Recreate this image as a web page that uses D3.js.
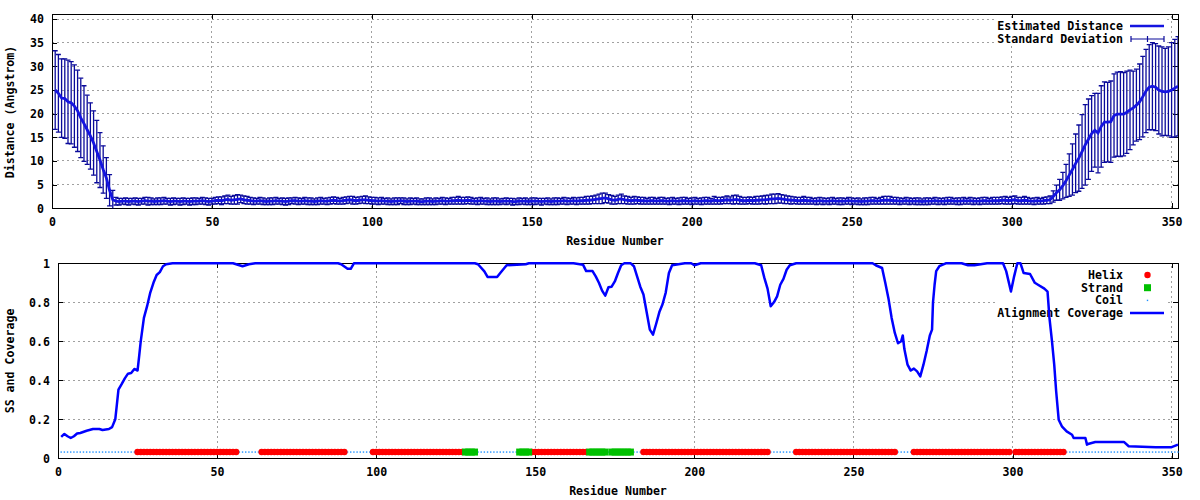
<!DOCTYPE html>
<html><head><meta charset="utf-8">
<script src="https://cdn.jsdelivr.net/npm/d3@7"></script>
<style>
body{margin:0;background:#fff}
svg text{font-family:"DejaVu Sans Mono","Liberation Mono",monospace;font-weight:bold;font-size:11.6px;fill:#000}
</style></head><body>
<svg id="chart" width="1200" height="500"></svg>
<script>
// ---------- DATA ----------
const xTicks = [0,50,100,150,200,250,300,350];
const yTicksTop = [0,5,10,15,20,25,30,35,40];
const yTicksBottom = [0,0.2,0.4,0.6,0.8,1];
const residueCount = 352;

// Estimated distance per residue (1..352)
const distance = [
25.0,24.3,23.3,23.2,22.5,22.3,21.6,20.6,19.1,17.9,16.6,15.3,13.8,12.0,10.2,8.2,6.4,3.8,1.8,1.5,
1.4,1.5,1.5,1.4,1.5,1.5,1.4,1.5,1.6,1.5,1.5,1.4,1.5,1.5,1.6,1.5,1.4,1.5,1.5,1.4,
1.5,1.5,1.4,1.5,1.5,1.5,1.6,1.5,1.4,1.5,1.6,1.7,1.6,1.8,1.9,1.7,1.8,1.9,2.0,1.8,
1.7,1.6,1.5,1.5,1.6,1.5,1.4,1.5,1.5,1.6,1.5,1.5,1.4,1.5,1.6,1.6,1.5,1.5,1.6,1.5,
1.5,1.4,1.5,1.6,1.5,1.5,1.6,1.7,1.6,1.5,1.6,1.7,1.8,1.7,1.6,1.7,1.8,1.8,1.7,1.6,
1.6,1.5,1.6,1.5,1.5,1.4,1.5,1.5,1.6,1.5,1.4,1.5,1.5,1.5,1.4,1.4,1.5,1.5,1.4,1.5,
1.5,1.6,1.5,1.5,1.6,1.6,1.7,1.6,1.6,1.7,1.6,1.5,1.5,1.6,1.5,1.5,1.4,1.5,1.5,1.4,
1.5,1.5,1.5,1.4,1.4,1.5,1.5,1.5,1.4,1.5,1.5,1.5,1.4,1.5,1.5,1.4,1.5,1.5,1.5,1.6,
1.5,1.5,1.6,1.5,1.6,1.6,1.7,1.7,1.8,1.9,2.0,2.1,2.2,2.0,1.8,1.7,1.9,2.0,1.8,1.7,
1.6,1.7,1.7,1.6,1.6,1.5,1.6,1.6,1.5,1.6,1.6,1.5,1.5,1.6,1.5,1.5,1.6,1.6,1.5,1.5,
1.6,1.5,1.5,1.6,1.6,1.5,1.7,1.6,1.6,1.7,1.8,1.7,1.8,1.9,1.7,1.6,1.6,1.7,1.6,1.7,
1.7,1.8,1.8,1.9,2.0,2.0,2.1,2.0,1.9,1.8,1.7,1.7,1.6,1.6,1.7,1.6,1.6,1.5,1.5,1.6,
1.5,1.5,1.5,1.6,1.5,1.5,1.5,1.5,1.6,1.5,1.5,1.5,1.4,1.5,1.5,1.6,1.6,1.5,1.6,1.7,
1.7,1.7,1.6,1.6,1.5,1.5,1.6,1.5,1.5,1.5,1.5,1.4,1.5,1.5,1.5,1.6,1.5,1.5,1.5,1.6,
1.6,1.5,1.5,1.5,1.6,1.5,1.6,1.5,1.5,1.5,1.6,1.6,1.5,1.6,1.6,1.6,1.7,1.7,1.6,1.7,
1.8,1.6,1.6,1.7,1.6,1.5,1.5,1.6,1.5,1.6,1.7,1.8,2.5,3.3,3.9,4.8,5.8,7.0,8.2,9.5,
10.6,12.0,13.4,14.6,15.8,16.5,15.9,17.3,18.2,18.2,18.3,19.6,19.9,19.9,19.9,20.3,20.8,21.2,21.8,22.5,
23.6,24.8,25.6,25.8,25.6,25.0,24.7,24.6,24.7,25.0,25.4,25.8];

// Standard deviation per residue (1..352)
const stdDev = [
8.3,8.2,8.3,8.4,8.8,8.7,8.7,8.6,8.4,8.0,7.3,7.0,6.8,6.6,5.8,5.0,4.3,3.3,2.0,0.8,
0.7,0.6,0.7,0.7,0.6,0.7,0.7,0.6,0.7,0.8,0.7,0.6,0.7,0.7,0.7,0.6,0.7,0.7,0.6,0.7,
0.7,0.6,0.7,0.7,0.7,0.6,0.7,0.7,0.7,0.6,0.7,0.7,0.8,0.8,0.9,0.8,0.9,1.0,0.8,0.8,
0.8,0.7,0.7,0.6,0.7,0.7,0.6,0.7,0.7,0.7,0.6,0.7,0.7,0.7,0.6,0.7,0.7,0.6,0.7,0.7,
0.7,0.6,0.7,0.7,0.6,0.7,0.7,0.7,0.7,0.6,0.7,0.7,0.7,0.8,0.7,0.7,0.7,0.8,0.7,0.7,
0.7,0.7,0.7,0.6,0.7,0.6,0.7,0.7,0.6,0.7,0.6,0.7,0.6,0.7,0.6,0.6,0.7,0.7,0.6,0.7,
0.6,0.7,0.7,0.6,0.7,0.7,0.8,0.7,0.7,0.7,0.7,0.6,0.7,0.7,0.6,0.7,0.6,0.7,0.7,0.6,
0.6,0.7,0.6,0.7,0.6,0.7,0.6,0.7,0.6,0.7,0.7,0.6,0.7,0.6,0.7,0.6,0.7,0.7,0.6,0.7,
0.7,0.6,0.7,0.7,0.7,0.7,0.8,0.8,0.8,0.9,1.0,1.1,1.0,0.9,0.9,0.8,0.9,1.0,0.8,0.8,
0.7,0.8,0.7,0.7,0.7,0.6,0.7,0.7,0.6,0.7,0.7,0.6,0.7,0.7,0.6,0.7,0.7,0.7,0.6,0.7,
0.7,0.6,0.7,0.7,0.7,0.6,0.8,0.7,0.7,0.7,0.8,0.7,0.9,0.9,0.8,0.7,0.7,0.7,0.7,0.8,
0.8,0.8,0.9,0.9,1.0,1.0,1.0,0.9,0.9,0.8,0.8,0.7,0.7,0.7,0.8,0.7,0.7,0.6,0.7,0.7,
0.7,0.6,0.7,0.7,0.6,0.7,0.7,0.6,0.7,0.7,0.6,0.7,0.6,0.7,0.7,0.7,0.7,0.6,0.7,0.8,
0.8,0.8,0.7,0.7,0.7,0.6,0.7,0.7,0.6,0.7,0.7,0.6,0.7,0.7,0.6,0.7,0.7,0.6,0.7,0.7,
0.7,0.6,0.7,0.7,0.7,0.6,0.7,0.7,0.6,0.7,0.7,0.7,0.6,0.7,0.7,0.7,0.7,0.8,0.7,0.8,
0.8,0.7,0.7,0.8,0.7,0.6,0.7,0.7,0.6,0.7,0.7,0.8,1.2,1.6,2.2,2.8,3.5,4.5,5.4,6.2,
7.0,7.8,8.5,8.5,8.0,7.8,8.4,8.6,8.5,8.4,8.6,8.8,8.9,9.0,8.8,8.7,8.4,7.8,7.6,8.0,
8.5,8.8,9.0,9.2,9.2,9.3,9.4,9.2,9.4,10.0,10.3,10.5];

// Alignment coverage, read as [residue, value] breakpoints
const coverageResidue = [1,2,3,4,5,6,7,9,11,13,14,16,17,18,18.5,19,20,21,22,23,24,25,25.5,26,26.5,27,28,29,30,31,32,33,34,36,55,56,58,60,62,88,89,91,92,93,131,132,134,135,138,139,141,147,148,162,165,166,168,169,170,171,172,173,174,175,176,177,178,180,181,182,183,184,185,186,187,188,189,190,191,192,193,197,199,200,202,219,221,222,223,224,225,226,227,228,229,230,232,256,257,259,260,261,262,263,264,265,265.5,266,267,268,269,270,271,272,273,274,274.7,275,275.5,276,277,279,284,286,288,290,292,297,298,299.5,300.5,301.5,302.5,303.5,305.5,307,308,310,311,311.6,312.4,313.1,313.7,314.5,315.5,317,318.7,319.2,322.9,323.4,324,326,335,336.5,345,350,352];
const coverageValue = [0.11,0.125,0.113,0.104,0.113,0.127,0.13,0.141,0.15,0.15,0.145,0.15,0.16,0.2,0.275,0.352,0.38,0.41,0.434,0.437,0.458,0.45,0.523,0.6,0.66,0.72,0.78,0.85,0.9,0.94,0.955,0.985,0.995,1.0,1.0,0.995,0.985,0.995,1.0,1.0,0.995,0.972,0.972,1.0,1.0,0.995,0.959,0.93,0.93,0.95,0.99,0.995,1.0,1.0,0.993,0.96,0.96,0.933,0.9,0.86,0.834,0.877,0.88,0.907,0.95,0.99,1.0,1.0,0.985,0.933,0.88,0.84,0.75,0.66,0.634,0.69,0.75,0.79,0.85,0.95,0.99,1.0,1.0,0.99,1.0,1.0,0.99,0.925,0.87,0.78,0.8,0.83,0.89,0.92,0.967,0.99,1.0,1.0,0.99,0.976,0.9,0.82,0.72,0.643,0.59,0.6,0.63,0.56,0.48,0.45,0.46,0.446,0.42,0.48,0.55,0.63,0.66,0.8,0.89,0.96,0.985,1.0,1.0,0.99,0.99,0.995,1.0,1.0,0.96,0.855,0.933,1.0,1.0,0.95,0.945,0.9,0.89,0.87,0.855,0.72,0.6,0.48,0.345,0.198,0.164,0.138,0.121,0.104,0.104,0.07,0.075,0.084,0.084,0.062,0.057,0.057,0.07];

// Secondary structure segments [first residue, last residue]; all other residues are coil
const helixSegments = [[25,56],[64,90],[99,127],[149,166],[184,223],[232,263],[269,299],[301,316]];
const strandSegments = [[128,131],[145,148],[167,172],[174,180]];
const ssLevel = 0.032;

const legendTop = ["Estimated Distance","Standard Deviation"];
const legendBottom = ["Helix","Strand","Coil","Alignment Coverage"];

// ---------- DRAW ----------
const svg = d3.select("#chart");
const C = {line:"#1414e0", err:"#0a0a9a", cov:"#0000ff", helix:"#ff0000", strand:"#00c000", coil:"#1e90ff", grid:"#a0a0a0"};

function panel(x, y, yTicks, yFmt, yTitle, titleY, xTitleY){
  const [x0,x1] = x.range(), [y0,y1] = y.range();
  const g = svg.append("g");
  g.append("g").selectAll("line").data(xTicks.filter(t=>t>0)).join("line")
    .attr("x1",d=>x(d)).attr("x2",d=>x(d)).attr("y1",y0).attr("y2",y1)
    .attr("stroke",C.grid).attr("stroke-dasharray","2,3").attr("shape-rendering","crispEdges");
  g.append("g").selectAll("line").data(yTicks.filter(t=>t>0 && t<y.domain()[1])).join("line")
    .attr("x1",x0).attr("x2",x1).attr("y1",d=>y(d)).attr("y2",d=>y(d))
    .attr("stroke",C.grid).attr("stroke-dasharray","2,3").attr("shape-rendering","crispEdges");
  const ax = (gen, tr, lab) => {
    const a = g.append("g").attr("transform",tr).call(gen);
    a.select(".domain").remove();
    a.selectAll(".tick line").attr("stroke","#000").attr("shape-rendering","crispEdges");
    a.attr("font-family",null).attr("font-size",null);
    if(!lab) a.selectAll("text").remove();
    return a;
  };
  ax(d3.axisBottom(x).tickValues(xTicks).tickSize(-5).tickPadding(9).tickFormat(d3.format("d")), `translate(0,${y0})`, true);
  ax(d3.axisTop(x).tickValues(xTicks).tickSize(-5), `translate(0,${y1})`, false);
  ax(d3.axisLeft(y).tickValues(yTicks).tickSize(-5).tickPadding(8).tickFormat(yFmt), `translate(${x0},0)`, true);
  ax(d3.axisRight(y).tickValues(yTicks).tickSize(-5), `translate(${x1},0)`, false);
  g.append("rect").attr("x",x0).attr("y",y1).attr("width",x1-x0).attr("height",y0-y1)
    .attr("fill","none").attr("stroke","#000").attr("stroke-width",1).attr("shape-rendering","crispEdges");
  g.append("text").attr("transform",`translate(14,${titleY}) rotate(-90)`).attr("text-anchor","middle").text(yTitle);
  g.append("text").attr("x",(x0+x1)/2).attr("y",xTitleY).attr("text-anchor","middle").attr("dominant-baseline","central").text("Residue Number");
  return g;
}

// ---- top panel ----
const xT = d3.scaleLinear([0,residueCount],[52,1178]);
const yT = d3.scaleLinear([0,41],[208.3,14.3]);
panel(xT, yT, yTicksTop, d3.format("d"), "Distance (Angstrom)", 112, 241);
svg.append("clipPath").attr("id","clipT").append("rect").attr("x",52).attr("y",14.3).attr("width",1126).attr("height",194);
svg.append("rect").attr("x",995).attr("y",18).attr("width",172).attr("height",25).attr("fill","#fff");

const topData = distance.map((d,i)=>({r:i+1, d, s:stdDev[i]}));
const gT = svg.append("g").attr("clip-path","url(#clipT)");
const eb = gT.append("g").attr("stroke",C.err).attr("stroke-width",1.3).attr("fill","none");
topData.forEach(p=>{
  const cx = xT(p.r), t = yT(p.d+p.s), b = yT(Math.max(p.d-p.s,-5));
  eb.append("line").attr("x1",cx).attr("x2",cx).attr("y1",t).attr("y2",b);
  eb.append("line").attr("x1",cx-2.5).attr("x2",cx+2.5).attr("y1",t).attr("y2",t);
  eb.append("line").attr("x1",cx-2.5).attr("x2",cx+2.5).attr("y1",b).attr("y2",b);
});
gT.append("path").datum(topData).attr("fill","none").attr("stroke",C.line).attr("stroke-width",2.8)
  .attr("d",d3.line().x(p=>xT(p.r)).y(p=>yT(p.d)));

// top legend
const lgT = svg.append("g");
lgT.selectAll("text").data(legendTop).join("text").attr("x",1123).attr("y",(d,i)=>26+i*13)
  .attr("text-anchor","end").attr("dominant-baseline","central").text(d=>d);
lgT.append("line").attr("x1",1130).attr("x2",1164).attr("y1",26).attr("y2",26).attr("stroke",C.line).attr("stroke-width",2.6);
lgT.append("line").attr("x1",1131).attr("x2",1164).attr("y1",39).attr("y2",39).attr("stroke",C.err).attr("stroke-width",1.2);
[1131,1147.5,1164].forEach(xx=>lgT.append("line").attr("x1",xx).attr("x2",xx).attr("y1",36).attr("y2",42).attr("stroke",C.err).attr("stroke-width",1.2));

// ---- bottom panel ----
const xB = d3.scaleLinear([0,residueCount],[58,1178]);
const yB = d3.scaleLinear([0,1],[458.3,263.3]);
panel(xB, yB, yTicksBottom, d=>d===0?"0":d===1?"1":d3.format(".1f")(d), "SS and Coverage", 361, 491);
svg.append("rect").attr("x",995).attr("y",267).attr("width",172).attr("height",53).attr("fill","#fff");

const ss = d3.range(1,residueCount+1).map(r=>({r, t:
  helixSegments.some(([a,b])=>r>=a&&r<=b) ? "H" : strandSegments.some(([a,b])=>r>=a&&r<=b) ? "E" : "C"}));
const gS = svg.append("g");
gS.selectAll("rect.coil").data(ss.filter(d=>d.t==="C")).join("rect").attr("class","coil")
  .attr("x",d=>xB(d.r)-0.7).attr("y",yB(ssLevel)-0.7).attr("width",1.4).attr("height",1.4).attr("fill",C.coil);
gS.selectAll("circle.helix").data(ss.filter(d=>d.t==="H")).join("circle").attr("class","helix")
  .attr("cx",d=>xB(d.r)).attr("cy",yB(ssLevel)).attr("r",3.2).attr("fill",C.helix);
gS.selectAll("rect.strand").data(ss.filter(d=>d.t==="E")).join("rect").attr("class","strand")
  .attr("x",d=>xB(d.r)-3.2).attr("y",yB(ssLevel)-3.5).attr("width",6.4).attr("height",7).attr("fill",C.strand);

const lgB = svg.append("g");
lgB.selectAll("text").data(legendBottom).join("text").attr("x",1123).attr("y",(d,i)=>275+i*12.7)
  .attr("text-anchor","end").attr("dominant-baseline","central").text(d=>d);
lgB.append("circle").attr("cx",1147.5).attr("cy",275).attr("r",3.2).attr("fill",C.helix);
lgB.append("rect").attr("x",1144).attr("y",284.2).attr("width",7).attr("height",7).attr("fill",C.strand);
lgB.append("rect").attr("x",1146.8).attr("y",299.7).attr("width",1.4).attr("height",1.4).attr("fill",C.coil);
lgB.append("line").attr("x1",1130).attr("x2",1164).attr("y1",313).attr("y2",313).attr("stroke",C.cov).attr("stroke-width",2.5);

const cov = coverageResidue.map((r,i)=>({r, v:coverageValue[i]}));
svg.append("path").datum(cov).attr("fill","none").attr("stroke",C.cov).attr("stroke-width",2.5)
  .attr("stroke-linejoin","round")
  .attr("d",d3.line().x(p=>xB(p.r)).y(p=>yB(p.v)));
</script>
</body></html>
